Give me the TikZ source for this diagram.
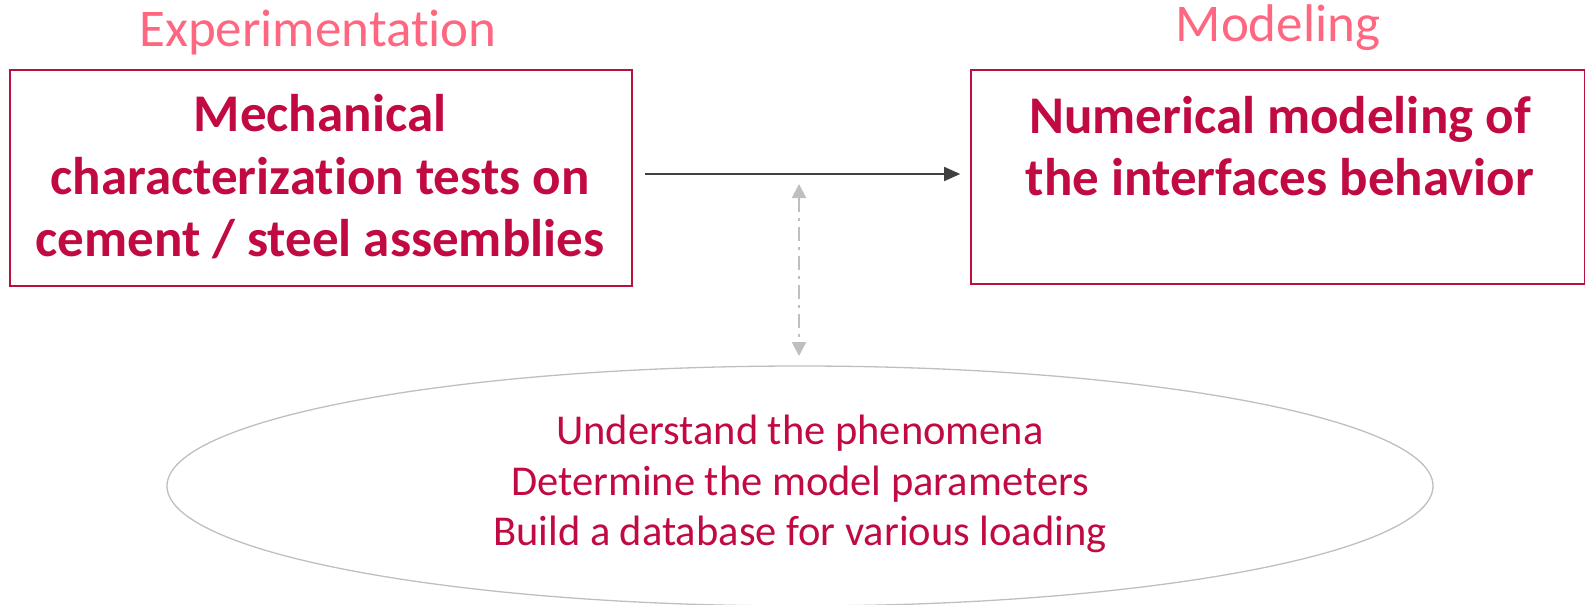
\documentclass[tikz,border=0pt]{standalone}
\usepackage{fontspec}
\setmainfont{Carlito}[Ligatures=NoCommon]
\usetikzlibrary{arrows.meta}
\definecolor{boxred}{HTML}{B8103F}
\definecolor{txtred}{HTML}{C20A42}
\definecolor{titlepink}{HTML}{FF6680}
\definecolor{arrowgray}{HTML}{404040}
\definecolor{lightgray}{HTML}{BFBFBF}
\tikzset{
  framebox/.style={draw=boxred, line width=1.6pt, minimum width=#1, inner sep=0pt},
  title/.style={text=titlepink, font=\fontsize{53}{60}\selectfont, inner sep=0pt},
  boldtxt/.style={text=txtred, font=\fontsize{53}{62.5}\selectfont\bfseries, align=center, inner sep=0pt},
  ovaltxt/.style={text=txtred, font=\fontsize{42.5}{50.5}\selectfont, align=center, inner sep=0pt},
}
\begin{document}
\begin{tikzpicture}[x=1pt,y=1pt]
\useasboundingbox (0,0) rectangle (1585,-605);
% titles
\node[title] (t1) at (318,-33) {Experimentation};
\node[title] (t2) at (1278,-28) {Modeling};
% boxes
\node[framebox=622pt, minimum height=216pt] (b1) at (321,-178) {};
\node[framebox=614pt, minimum height=214pt] (b2) at (1278,-177) {};
\node[boldtxt] (l1) at (320,-177) {Mechanical\\characterization tests on\\cement / steel assemblies};
\node[boldtxt] (r1) at (1280,-146) {Numerical modeling of\\the interfaces behavior};
% ellipse
\draw[lightgray, line width=1.3pt] (800,-486) ellipse [x radius=633, y radius=120];
\coordinate (e) at (800,-366);
\node[ovaltxt] (o1) at (800,-484) {Understand the phenomena\\Determine the model parameters\\Build a database for various loading};
% connectors
\draw[arrowgray, line width=1.6pt, -{Triangle[length=16pt,width=14pt]}, shorten <=12pt, shorten >=10pt] (b1.east |- 0,-174) -- (b2.west |- 0,-174);
\coordinate (vt) at (799,-184);
\coordinate (vb) at (799,-356);
\draw[lightgray, line width=2pt, dash pattern=on 14pt off 6pt on 3pt off 6pt, {Triangle[length=14pt,width=14pt]}-{Triangle[length=14pt,width=14pt]}] (vt) -- (vb);
\end{tikzpicture}
\end{document}
